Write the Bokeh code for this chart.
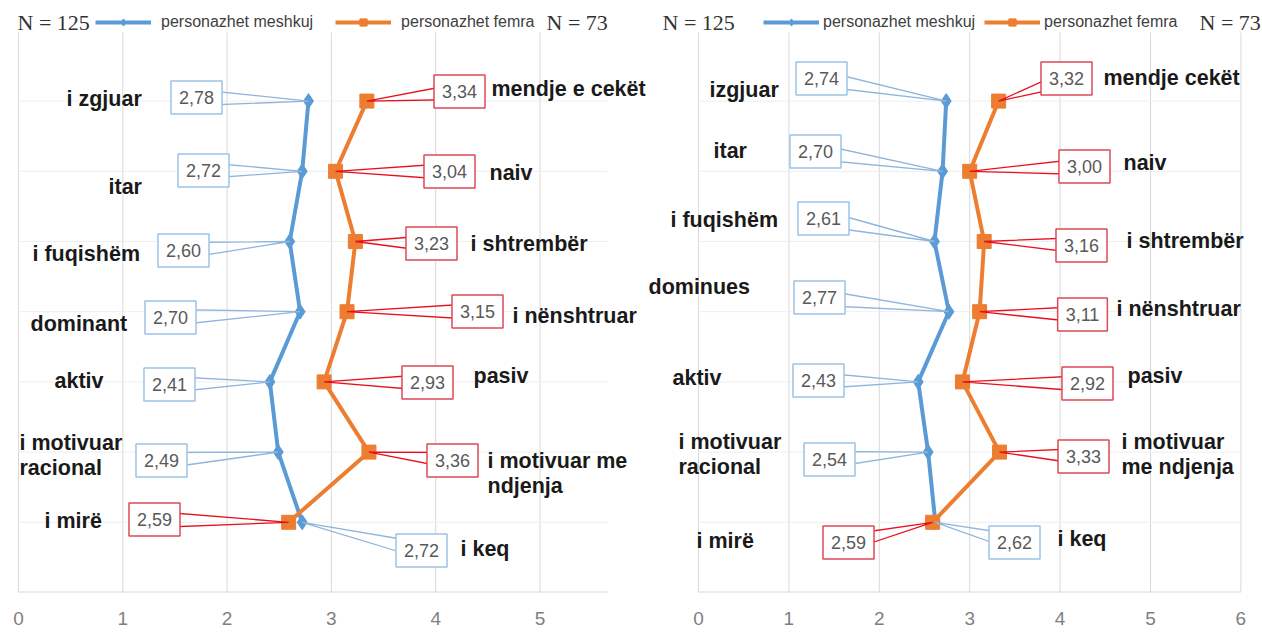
from bokeh.plotting import figure
from bokeh.layouts import row
from bokeh.models import Range1d, FixedTicker, Legend, LegendItem, Label
from bokeh.core.properties import value
from bokeh.embed import file_html
from bokeh.resources import INLINE

# ---------------- data ----------------
rows = [7, 6, 5, 4, 3, 2, 1]
series_names = ["personazhet meshkuj", "personazhet femra"]
n_labels = ["N = 125", "N = 73"]

# left panel
L_left_traits = ["i zgjuar", "itar", "i fuqishëm", "dominant", "aktiv",
                 "i motivuar\nracional", "i mirë"]
L_right_traits = ["mendje e cekët", "naiv", "i shtrembër", "i nënshtruar", "pasiv",
                  "i motivuar me\nndjenja", "i keq"]
L_male = [2.78, 2.72, 2.60, 2.70, 2.41, 2.49, 2.72]
L_female = [3.34, 3.04, 3.23, 3.15, 2.93, 3.36, 2.59]
L_ticks = [0, 1, 2, 3, 4, 5]

# right panel
R_left_traits = ["izgjuar", "itar", "i fuqishëm", "dominues", "aktiv",
                 "i motivuar\nracional", "i mirë"]
R_right_traits = ["mendje cekët", "naiv", "i shtrembër", "i nënshtruar", "pasiv",
                  "i motivuar\nme ndjenja", "i keq"]
R_male = [2.74, 2.70, 2.61, 2.77, 2.43, 2.54, 2.62]
R_female = [3.32, 3.00, 3.16, 3.11, 2.92, 3.33, 2.59]
R_ticks = [0, 1, 2, 3, 4, 5, 6]

# ---------------- styles / layout (page pixels) ----------------
BLUE = "#5b9bd5"
ORANGE = "#ed7d31"
BLUE_BOX = "#9dc3e6"
BLUE_LEAD = "#8fb5dd"
RED_BOX = "#dc4a55"
RED_LEAD = "#e8101e"
BASE = 592.0   # page y of value axis baseline
TOP = 0.0
ROWPX = 70.2
H = 633

LEFT_LAYOUT = dict(
    page_left=0, page_right=646, x0=18.0, pxu=104.3, grid_end=5.65,
    male_box=[(196, 97), (203, 170), (183, 250), (170, 317), (169, 384), (161, 460), (421, 550)],
    female_box=[(459, 91), (449, 171), (431, 243), (477, 311), (427, 382), (452, 460), (154, 519)],
    left_lab=[(66, 98), (108, 186), (32, 253), (30, 323), (54, 380), (19, 455), (44, 520)],
    right_lab=[(491, 88), (489, 172), (470, 243), (512, 315), (473, 375), (487, 473), (460, 548)],
    n_pos=[(17, 22), (546, 22)],
    legend=dict(x=95, top=13, standoff=10, spacing=22),
)
RIGHT_LAYOUT = dict(
    page_left=646, page_right=1262, x0=698.0, pxu=90.4, grid_end=6.0,
    male_box=[(821, 78), (815, 151), (823, 218), (819, 297), (818, 380), (829, 459), (1014, 542)],
    female_box=[(1066, 78), (1084, 166), (1081, 245), (1082, 314), (1087, 383), (1083, 456), (848, 542)],
    left_lab=[(709, 89), (713, 150), (670, 219), (648, 286), (672, 377), (678, 454), (696, 540)],
    right_lab=[(1103, 77), (1123, 162), (1126, 240), (1116, 308), (1127, 375), (1121, 454), (1057, 538)],
    n_pos=[(662, 22), (1199, 22)],
    legend=dict(x=763, top=13, standoff=4, spacing=9),
)


def fmt(v):
    return f"{v:.2f}".replace(".", ",")


def make_panel(male, female, left_traits, right_traits, ticks, lay):
    W = lay["page_right"] - lay["page_left"]
    x0, pxu = lay["x0"], lay["pxu"]
    dx = lambda px: (px - x0) / pxu
    dy = lambda py: (BASE - py) / ROWPX
    xs, xe = dx(lay["page_left"]), dx(lay["page_right"])
    ytop = (BASE - TOP) / ROWPX

    p = figure(width=W, height=H, x_range=Range1d(xs, xe), y_range=Range1d(0, ytop),
               output_backend="svg", toolbar_location=None, y_axis_location=None,
               min_border_left=0, min_border_right=0, min_border_top=0,
               min_border_bottom=int(H - BASE),
               outline_line_color=None, background_fill_color="white",
               border_fill_color="white")
    p.xgrid.visible = False
    p.ygrid.visible = False

    # grid
    gtop = dy(32)
    p.segment(x0=ticks, y0=[0] * len(ticks), x1=ticks, y1=[gtop] * len(ticks),
              line_color="#d9d9d9", line_width=1)
    p.segment(x0=[0] * len(rows), y0=rows, x1=[lay["grid_end"]] * len(rows), y1=rows,
              line_color="#eeeeee", line_width=1)
    p.segment(x0=[0], y0=[0], x1=[lay["grid_end"]], y1=[0], line_color="#d9d9d9", line_width=2)

    # series
    ml = p.line(male, rows, line_color=BLUE, line_width=4)
    ms = p.scatter(male, rows, marker="diamond", size=15, color=BLUE)
    fl = p.line(female, rows, line_color=ORANGE, line_width=4)
    fs = p.scatter(female, rows, marker="square", size=14, color=ORANGE)

    # callouts
    hh = 8 / ROWPX
    for vals, boxes, lead, border in ((male, lay["male_box"], BLUE_LEAD, BLUE_BOX),
                                      (female, lay["female_box"], RED_LEAD, RED_BOX)):
        bx = [dx(b[0]) for b in boxes]
        by = [dy(b[1]) for b in boxes]
        lx = [[bxi, v, bxi] for bxi, v in zip(bx, vals)]
        ly = [[byi + hh, r, byi - hh] for byi, r in zip(by, rows)]
        p.multi_line(lx, ly, line_color=lead, line_width=1.3)
        p.text(x=bx, y=by, text=[fmt(v) for v in vals], text_align="center",
               text_baseline="middle", text_font=value("Liberation Sans"),
               text_font_size="18px", text_color="#595959",
               background_fill_color="white", border_line_color=border,
               border_line_width=1.5,
               padding=dict(left=8, right=8, top=10, bottom=10))

    # trait labels
    for traits, pos in ((left_traits, lay["left_lab"]), (right_traits, lay["right_lab"])):
        p.text(x=[dx(q[0]) for q in pos], y=[dy(q[1]) for q in pos], text=traits,
               text_align="left", text_baseline="middle",
               text_font=value("Liberation Sans"), text_font_style="bold",
               text_font_size="21.5px", text_color="#1a1a1a", text_line_height=1.05)

    # legend
    lg = lay["legend"]
    legend = Legend(items=[LegendItem(label=series_names[0], renderers=[ml, ms]),
                           LegendItem(label=series_names[1], renderers=[fl, fs])],
                    orientation="horizontal",
                    location=(lg["x"] - lay["page_left"], BASE - lg["top"] - 18),
                    glyph_width=56, glyph_height=18, label_height=18,
                    label_standoff=lg["standoff"], spacing=lg["spacing"],
                    padding=0, margin=0, border_line_color=None,
                    background_fill_alpha=0, label_text_font="Liberation Sans",
                    label_text_font_size="16px", label_text_color="#404040")
    p.add_layout(legend)

    for txt, (px, py) in zip(n_labels, lay["n_pos"]):
        p.add_layout(Label(x=px - lay["page_left"], y=BASE - py, x_units="screen",
                           y_units="screen", text=txt, text_baseline="middle",
                           text_font="Liberation Serif", text_font_size="22px",
                           text_color="#333333"))

    # axis
    ax = p.xaxis[0]
    ax.ticker = FixedTicker(ticks=ticks)
    ax.axis_line_color = None
    ax.major_tick_line_color = None
    ax.minor_tick_line_color = None
    ax.major_tick_out = 0
    ax.major_tick_in = 0
    ax.major_label_standoff = 19
    ax.major_label_text_font = "Liberation Sans"
    ax.major_label_text_font_size = "19px"
    ax.major_label_text_color = "#7f7f7f"
    return p


pl = make_panel(L_male, L_female, L_left_traits, L_right_traits, L_ticks, LEFT_LAYOUT)
pr = make_panel(R_male, R_female, R_left_traits, R_right_traits, R_ticks, RIGHT_LAYOUT)

layout = row(pl, pr, spacing=0)
open("out.html", "w").write(file_html(layout, INLINE))
